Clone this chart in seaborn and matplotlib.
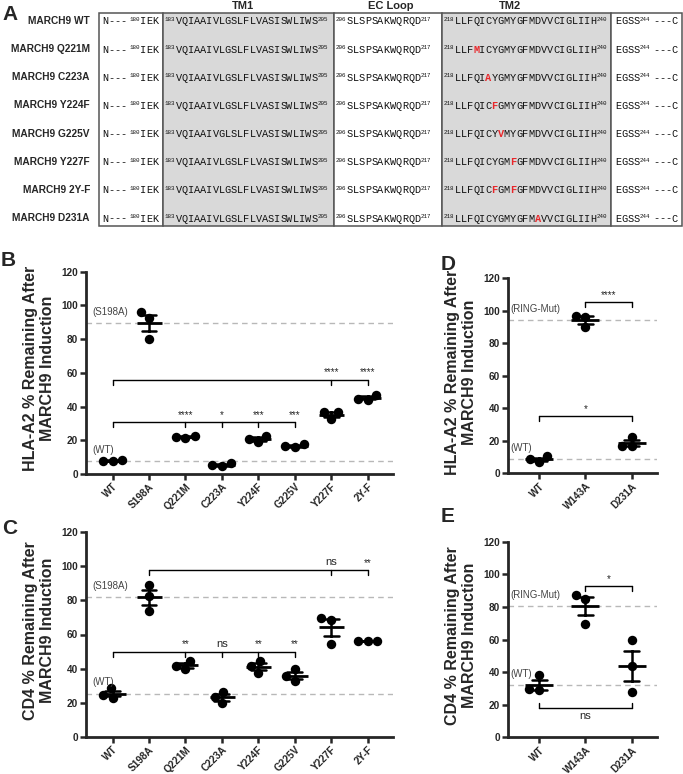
import numpy as np
import pandas as pd
import matplotlib
matplotlib.use('Agg')
import matplotlib.pyplot as plt
from matplotlib.patches import Rectangle
import seaborn as sns

# ---- Panel A: alignment of the MARCH9 TM region ----
row_labels = ['MARCH9 WT', 'MARCH9 Q221M', 'MARCH9 C223A', 'MARCH9 Y224F',
              'MARCH9 G225V', 'MARCH9 Y227F', 'MARCH9 2Y-F', 'MARCH9 D231A']
tm1_seqs = ['VQIAAIVLGSLFLVASISWLIWS'] * 4 + ['VQIAAIVGLSLFLVASISWLIWS'] + \
           ['VQIAAIVLGSLFLVASISWLIWS'] * 3
ec_seq = 'SLSPSAKWQRQD'
tm2_seqs = ['LLFQICYGMYGFMDVVCIGLIIH', 'LLFMICYGMYGFMDVVCIGLIIH',
            'LLFQIAYGMYGFMDVVCIGLIIH', 'LLFQICFGMYGFMDVVCIGLIIH',
            'LLFQICYVMYGFMDVVCIGLIIH', 'LLFQICYGMFGFMDVVCIGLIIH',
            'LLFQICFGMFGFMDVVCIGLIIH', 'LLFQICYGMYGFMAVVCIGLIIH']
header_labels = ['TM1', 'EC Loop', 'TM2']

# ---- Panels B-E: % remaining after MARCH9 induction (triplicates) ----
b_cats = ['WT', 'S198A', 'Q221M', 'C223A', 'Y224F', 'G225V', 'Y227F', '2Y-F']
b_vals = [[8.5, 7.5, 7.5], [96, 80, 92.5], [22.5, 21.5, 22], [6.5, 4.5, 5.5],
          [22.5, 19, 21], [18, 16, 16.5], [36.5, 32.5, 36.5], [47, 44, 44.5]]
b_refs = [('(S198A)', 'S198A'), ('(WT)', 'WT')]
b_brackets = [(0, 7, 56, [0, 6, 7], [(6, '****'), (7, '****')]),
              (0, 5, 31, [0, 2, 3, 4, 5], [(2, '****'), (3, '*'), (4, '***'), (5, '***')])]

c_cats = b_cats
c_vals = [[28.5, 23, 24.5], [89, 82.5, 74], [44.5, 39.5, 41.5], [26.5, 19.5, 23.5],
          [44.5, 37.5, 41.5], [39.5, 32.5, 35.5], [69.5, 68.5, 54.5], [56, 56, 56]]
c_refs = [('(S198A)', 'S198A'), ('(WT)', 'WT')]
c_brackets = [(1, 7, 98, [1, 6, 7], [(6, 'ns'), (7, '**')]),
              (0, 5, 50, [0, 2, 3, 4, 5], [(2, '**'), (3, 'ns'), (4, '**'), (5, '**')])]

d_cats = ['WT', 'W143A', 'D231A']
d_vals = [[10.5, 7, 8.5], [97, 96, 90], [22.5, 16.5, 16.5]]
d_refs = [('(RING-Mut)', 'W143A'), ('(WT)', 'WT')]
d_brackets = [(1, 2, 105.5, [1, 2], [(1.5, '****')]),
              (0, 2, 35, [0, 2], [(1, '*')])]

e_cats = d_cats
e_vals = [[38, 29.5, 29], [87.5, 85, 69.5], [60, 43.5, 27.5]]
e_refs = [('(RING-Mut)', 'W143A'), ('(WT)', 'WT')]
e_brackets = [(1, 2, 93, [1, 2], [(1.5, '*')]),
              (0, 2, 18, [0, 2], [(1, 'ns')])]

sns.set_style('ticks')
plt.rcParams['font.family'] = ['Liberation Sans', 'DejaVu Sans']

W, H = 683, 774
fig = plt.figure(figsize=(W / 100, H / 100), dpi=100)

# overlay axes in pixel coordinates for panel A and the panel letters
axA = fig.add_axes([0, 0, 1, 1], zorder=-1)
axA.set_xlim(0, W)
axA.set_ylim(H, 0)
axA.axis('off')

col_edges = [99, 163, 334, 442, 611, 682]
box_top, box_bot = 13, 226
for i in range(len(col_edges) - 1):
    shade = '#d9d9d9' if i in (1, 3) else 'white'
    axA.add_patch(Rectangle((col_edges[i], box_top), col_edges[i + 1] - col_edges[i],
                            box_bot - box_top, facecolor=shade, edgecolor='#555555', lw=1.1))
for lab, xc in zip(header_labels, [243, 391, 510]):
    axA.text(xc, 6, lab, ha='center', va='center', fontsize=8, fontweight='bold')

mono = 'Liberation Mono'
fs_main, fs_sup = 7.4, 4.2
adv_main = 0.6 * fs_main * 100 / 72
adv_sup = 0.6 * fs_sup * 100 / 72


def write_run(x, y, parts):
    # parts: (text, kind) with kind in 'main', 'sup', 'gap'
    for text, kind, *col in parts:
        color = col[0] if col else '#111111'
        if kind == 'gap':
            x += adv_main * 0.5
            continue
        if kind == 'sup':
            axA.text(x, y - 3.5, text, fontsize=fs_sup, family=mono, color=color,
                     va='baseline', ha='left')
            x += adv_sup * len(text)
        else:
            for ch in text:
                axA.text(x, y, ch, fontsize=fs_main, family=mono, color=color,
                         va='baseline', ha='left',
                         fontweight='bold' if color != '#111111' else 'normal')
                x += adv_main
    return x


wt_tm2 = tm2_seqs[0]
row_y = np.linspace(21, 218, len(row_labels))
for r, (lab, y) in enumerate(zip(row_labels, row_y)):
    axA.text(90, y, lab, ha='right', va='center', fontsize=7.3, fontweight='bold')
    base = y + 3.5
    write_run(102, base, [('N---', 'main'), ('', 'gap'), ('180', 'sup'), ('IEK', 'main')])
    write_run(165, base, [('183', 'sup'), (tm1_seqs[r], 'main'), ('205', 'sup')])
    write_run(336, base, [('206', 'sup'), (ec_seq, 'main'), ('217', 'sup')])
    x = write_run(444, base, [('218', 'sup')])
    for ch, wch in zip(tm2_seqs[r], wt_tm2):
        x = write_run(x, base, [(ch, 'main', '#e8262a' if ch != wch else '#111111')])
    write_run(x, base, [('240', 'sup')])
    write_run(615, base, [('EGSS', 'main'), ('244', 'sup'), ('', 'gap'), ('---C', 'main')])

for letter, (lx, ly) in zip('ABCDE', [(2, 14), (1, 261), (2, 529), (441, 264), (441, 516)]):
    axA.text(lx, ly, letter, fontsize=15, fontweight='bold', va='center', ha='left')


def draw_panel(rect, cats, vals, ylabel, refs, brackets, capsize, meanwidth, xlim):
    ax = fig.add_axes(rect)
    df = pd.DataFrame({'group': np.repeat(cats, [len(v) for v in vals]),
                       'value': np.concatenate(vals)})
    sns.swarmplot(data=df, x='group', y='value', order=cats, color='black',
                  size=6.8, ax=ax, zorder=3)
    sns.pointplot(data=df, x='group', y='value', order=cats, errorbar='se',
                  capsize=capsize, color='black', linestyle='none', marker='_',
                  markersize=meanwidth, markeredgewidth=2,
                  err_kws={'linewidth': 1.8}, ax=ax, zorder=4)
    ax.set_xlim(*xlim)
    ax.set_ylim(0, 120)
    ax.set_yticks(range(0, 121, 20))
    ax.set_xlabel('')
    ax.set_ylabel(ylabel, fontsize=11.5, fontweight='bold', linespacing=1.15)
    ax.yaxis.set_label_coords(-0.10 if len(cats) > 3 else -0.10 * 307 / 149, 0.52)
    sns.despine(ax=ax)
    for s in ('left', 'bottom'):
        ax.spines[s].set_linewidth(2)
    ax.tick_params(length=4, width=1.8, labelsize=7.2, pad=1.5)
    for t in ax.get_yticklabels():
        t.set_fontweight('bold')
    ax.set_xticks(range(len(cats)))
    ax.set_xticklabels(cats, rotation=45, ha='right', rotation_mode='anchor',
                       fontweight='bold')

    for text, cat in refs:
        yref = np.mean(vals[cats.index(cat)])
        ax.axhline(yref, color='#b8b8b8', lw=1, dashes=(4, 3), zorder=1)
        ax.annotate(text, (0.02, yref), xycoords=('axes fraction', 'data'),
                    xytext=(0, 4.5), textcoords='offset points', fontsize=7,
                    color='#444444', va='bottom', ha='left')

    for x1, x2, y, ticks, labels in brackets:
        down = y > 25
        tl = 3 if down else -3
        ax.plot([x1, x2], [y, y], color='black', lw=1)
        for t in ticks:
            ax.plot([t, t], [y, y - tl], color='black', lw=1)
        for lx, lt in labels:
            if down:
                ax.annotate(lt, (lx, y), xytext=(0, 1.5 if '*' in lt else 2),
                            textcoords='offset points', ha='center', va='bottom',
                            fontsize=7 if '*' in lt else 8)
            else:
                ax.annotate(lt, (lx, y), xytext=(0, -2), textcoords='offset points',
                            ha='center', va='top', fontsize=8)
    return ax


draw_panel([86 / W, 1 - 474 / H, 307 / W, 202.3 / H], b_cats, b_vals,
           'HLA-A2 % Remaining After\nMARCH9 Induction', b_refs, b_brackets,
           0.41, 18, (-0.73, 7.7))
draw_panel([86 / W, 1 - 736.7 / H, 307 / W, 204.4 / H], c_cats, c_vals,
           'CD4 % Remaining After\nMARCH9 Induction', c_refs, c_brackets,
           0.41, 18, (-0.73, 7.7))
draw_panel([507.7 / W, 1 - 473.3 / H, 149 / W, 195 / H], d_cats, d_vals,
           'HLA-A2 % Remaining After\nMARCH9 Induction', d_refs, d_brackets,
           0.32, 19.5, (-0.68, 2.54))
draw_panel([507.7 / W, 1 - 737.3 / H, 149 / W, 195.6 / H], e_cats, e_vals,
           'CD4 % Remaining After\nMARCH9 Induction', e_refs, e_brackets,
           0.32, 19.5, (-0.68, 2.54))

fig.savefig('out.png', dpi=100)
